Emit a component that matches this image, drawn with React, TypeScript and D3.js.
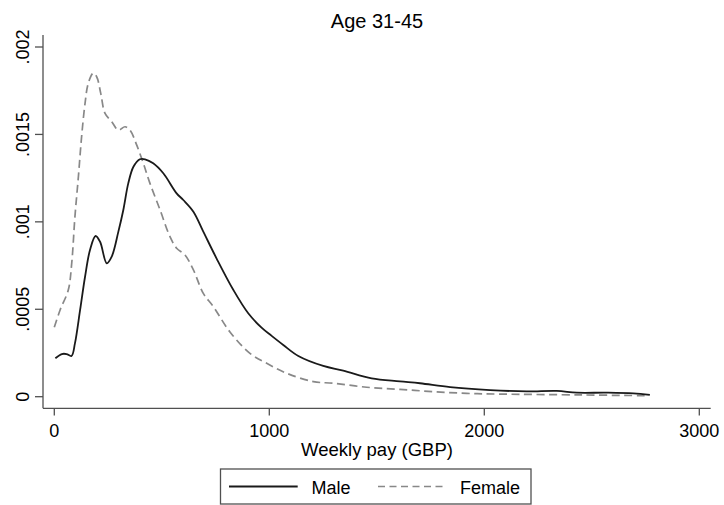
import React from "react";
import * as d3 from "d3";

// Kernel density of weekly pay, age 31-45
const maleX = [5, 35, 57, 80, 96, 120, 143, 166, 192, 213, 244, 267, 298, 321, 344, 368, 398, 422, 460, 507, 569, 600, 647, 693, 755, 833, 902, 964, 1011, 1065, 1135, 1251, 1344, 1476, 1608, 1701, 1841, 2027, 2197, 2337, 2430, 2569, 2693, 2770];
const maleD = [0.00022, 0.000244, 0.000244, 0.000233, 0.000305, 0.000496, 0.000686, 0.000839, 0.000919, 0.000886, 0.000763, 0.000801, 0.000944, 0.001068, 0.00122, 0.001315, 0.001358, 0.001358, 0.001335, 0.001278, 0.001163, 0.001125, 0.001058, 0.000944, 0.00079, 0.00061, 0.000477, 0.000395, 0.000348, 0.000296, 0.000233, 0.000176, 0.000149, 0.000105, 0.000088, 0.000077, 0.000055, 0.000038, 0.00003, 0.000033, 0.000023, 0.000023, 0.000019, 0.00001];

const femaleX = [0, 27, 65, 81, 96, 112, 127, 143, 158, 181, 197, 216, 236, 267, 298, 329, 352, 383, 414, 445, 492, 538, 569, 608, 647, 693, 740, 817, 910, 988, 1081, 1205, 1298, 1453, 1608, 1763, 1918, 2073, 2453, 2755];
const femaleD = [0.000397, 0.000496, 0.00061, 0.000763, 0.00103, 0.001258, 0.001487, 0.001678, 0.001792, 0.00185, 0.00183, 0.001735, 0.00162, 0.001573, 0.001525, 0.001544, 0.001525, 0.00144, 0.001335, 0.00122, 0.001068, 0.000915, 0.000849, 0.00081, 0.000725, 0.000591, 0.000515, 0.00037, 0.000248, 0.000191, 0.000134, 0.000086, 0.000077, 0.000054, 0.000042, 0.000029, 0.000019, 0.000015, 0.00001, 0.000006];

const xTicks = [0, 1000, 2000, 3000];
const yTicks = [0, 0.0005, 0.001, 0.0015, 0.002];
const yTickLabels = ["0", ".0005", ".001", ".0015", ".002"];

const W = 724;
const H = 505;
const FONT = "'Liberation Sans', Arial, Helvetica, sans-serif";

export default function App() {
  const x = d3.scaleLinear().domain([0, 3000]).range([54.3, 699.3]);
  const y = d3.scaleLinear().domain([0, 0.002]).range([396.7, 47]);

  const line = d3
    .line<[number, number]>()
    .x((d) => x(d[0]))
    .y((d) => y(d[1]))
    .curve(d3.curveCatmullRom.alpha(0.5));

  const male = maleX.map((v, i) => [v, maleD[i]] as [number, number]);
  const female = femaleX.map((v, i) => [v, femaleD[i]] as [number, number]);

  const axisLeft = 43;
  const axisBottom = 408.3;
  const axisColor = "#505050";
  const femaleColor = "#888888";
  const femaleDash = "8,4.5";

  return (
    <svg
      width={W}
      height={H}
      style={{ position: "absolute", left: 0, top: 0, background: "#fff" }}
      fontFamily={FONT}
    >
      <rect x={0} y={0} width={W} height={H} fill="#fff" />

      <text x={377} y={27.7} fontSize={20} textAnchor="middle" fill="#000">
        Age 31-45
      </text>

      {/* axes */}
      <line x1={axisLeft} x2={axisLeft} y1={35} y2={axisBottom} stroke={axisColor} strokeWidth={1.3} />
      <line x1={axisLeft} x2={710.7} y1={axisBottom} y2={axisBottom} stroke={axisColor} strokeWidth={1.3} />

      {yTicks.map((t, i) => (
        <g key={`y${i}`}>
          <line x1={35} x2={axisLeft} y1={y(t)} y2={y(t)} stroke={axisColor} strokeWidth={1.3} />
          <text
            transform={`translate(28.5,${y(t)}) rotate(-90)`}
            fontSize={18}
            textAnchor="middle"
            fill="#000"
          >
            {yTickLabels[i]}
          </text>
        </g>
      ))}

      {xTicks.map((t) => (
        <g key={`x${t}`}>
          <line x1={x(t)} x2={x(t)} y1={axisBottom} y2={415.5} stroke={axisColor} strokeWidth={1.3} />
          <text x={x(t)} y={436.7} fontSize={18} textAnchor="middle" fill="#000">
            {t}
          </text>
        </g>
      ))}

      <text x={377} y={456} fontSize={18.5} textAnchor="middle" fill="#000">
        Weekly pay (GBP)
      </text>

      {/* density curves */}
      <path d={line(female) ?? ""} fill="none" stroke={femaleColor} strokeWidth={1.7} strokeDasharray={femaleDash} />
      <path d={line(male) ?? ""} fill="none" stroke="#1a1a1a" strokeWidth={1.8} />

      {/* legend */}
      <rect x={220.5} y={469} width={310.5} height={35} fill="#fff" stroke="#505050" strokeWidth={1.3} />
      <line x1={229} x2={297.7} y1={486.5} y2={486.5} stroke="#1a1a1a" strokeWidth={1.8} />
      <text x={311.5} y={493.7} fontSize={18} fill="#000">
        Male
      </text>
      <line x1={378} x2={443} y1={486.5} y2={486.5} stroke={femaleColor} strokeWidth={1.7} strokeDasharray="7,4.5" />
      <text x={460} y={493.7} fontSize={18} fill="#000">
        Female
      </text>
    </svg>
  );
}
